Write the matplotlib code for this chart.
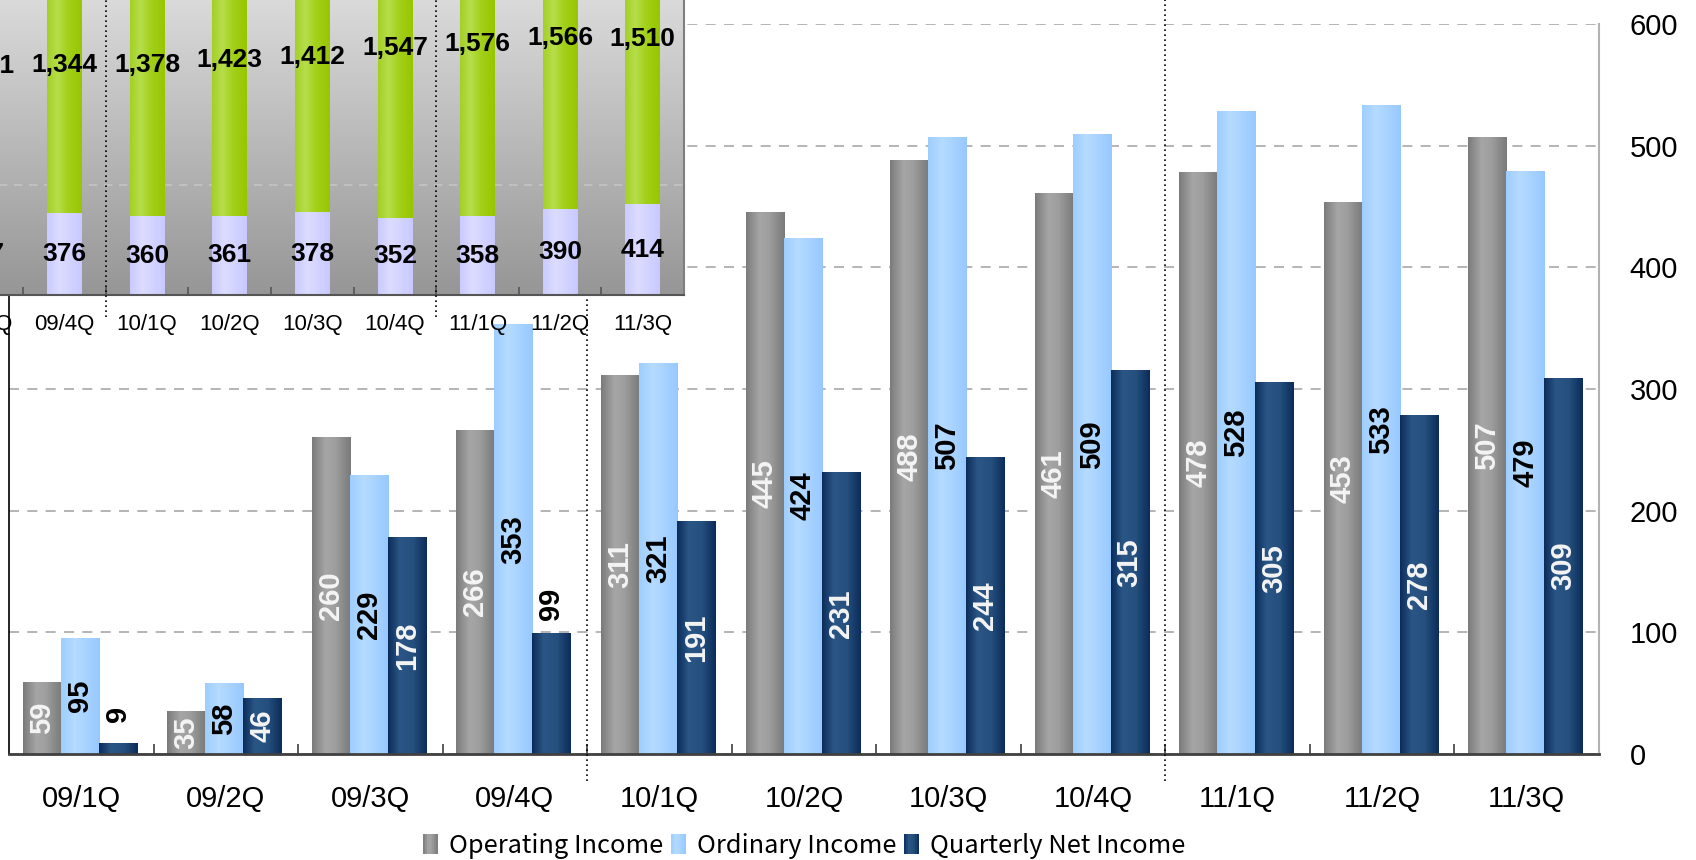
import numpy as np
import matplotlib
matplotlib.use('Agg')
import matplotlib.pyplot as plt
from matplotlib.colors import LinearSegmentedColormap
from matplotlib.legend_handler import HandlerBase
from matplotlib.patches import Rectangle
from matplotlib.font_manager import FontProperties

plt.rcParams['font.family'] = ['Liberation Sans', 'DejaVu Sans']

# quarterly income, main chart
quarters = ['09/1Q', '09/2Q', '09/3Q', '09/4Q', '10/1Q', '10/2Q',
            '10/3Q', '10/4Q', '11/1Q', '11/2Q', '11/3Q']
operating = [59, 35, 260, 266, 311, 445, 488, 461, 478, 453, 507]
ordinary = [95, 58, 229, 353, 321, 424, 507, 509, 528, 533, 479]
net_income = [9, 46, 178, 99, 191, 231, 244, 315, 305, 278, 309]
series_names = ['Operating Income', 'Ordinary Income', 'Quarterly Net Income']

# stacked panel in the corner
inset_quarters = ['09/3Q', '09/4Q', '10/1Q', '10/2Q', '10/3Q',
                  '10/4Q', '11/1Q', '11/2Q', '11/3Q']
inset_lower = [377, 376, 360, 361, 378, 352, 358, 390, 414]
inset_upper = [1331, 1344, 1378, 1423, 1412, 1547, 1576, 1566, 1510]


def ramp(name, stops):
    return LinearSegmentedColormap.from_list(name, stops)


cm_gray = ramp('gray', [(0, '#7a7a7a'), (0.12, '#8a8a8a'), (0.35, '#a6a6a6'),
                        (0.6, '#9e9e9e'), (0.85, '#878787'), (1, '#7a7a7a')])
cm_light = ramp('light', [(0, '#9dcdff'), (0.35, '#b5dbff'), (0.65, '#a8d3ff'),
                          (1, '#96c8ff')])
cm_dark = ramp('dark', [(0, '#0b2c5a'), (0.3, '#2a5686'), (0.65, '#254f7d'),
                        (1, '#0b2c5a')])
cm_green = ramp('green', [(0, '#a4cf25'), (0.3, '#b6de4c'), (0.6, '#a3d01a'),
                          (1, '#97c600')])
cm_lav = ramp('lav', [(0, '#cacaff'), (0.35, '#dcdcff'), (0.7, '#d2d2ff'),
                      (1, '#c8c8ff')])
cm_bg = ramp('bg', ['#dadada', '#969696'])


def fill_gradient(ax, bars, cmap):
    grad = np.linspace(0, 1, 128)[None, :]
    for bar in bars:
        x, y = bar.get_xy()
        w, h = bar.get_width(), bar.get_height()
        ax.imshow(grad, cmap=cmap, aspect='auto', interpolation='bilinear',
                  extent=(x, x + w, y, y + h), zorder=bar.get_zorder() + 0.1)


class StripeHandler(HandlerBase):
    def __init__(self, cmap, n=8):
        super().__init__()
        self.cmap = cmap
        self.n = n

    def create_artists(self, legend, orig_handle, xdescent, ydescent,
                       width, height, fontsize, trans):
        step = width / self.n
        return [Rectangle((-xdescent + i * step, -ydescent), step, height,
                          facecolor=self.cmap((i + 0.5) / self.n),
                          edgecolor='none', transform=trans)
                for i in range(self.n)]


fig = plt.figure(figsize=(16.96, 8.6), dpi=100)
W, H = 1696, 860

# ---- main grouped bars
ax = fig.add_axes([9 / W, 1 - 754 / H, 1590 / W, 730 / H])
x = np.arange(len(quarters))
bw = 0.263
series = [operating, ordinary, net_income]
cmaps = [cm_gray, cm_light, cm_dark]
label_colors = ['#f4f4f4', 'black', '#f4f4f4']
outside = {(2, 0), (2, 3)}

for k, (vals, cm) in enumerate(zip(series, cmaps)):
    pos = x + (k - 1) * bw - 0.01
    bars = ax.bar(pos, vals, bw, color=cm(0.5), zorder=2)
    fill_gradient(ax, bars, cm)
    for i, (px, v) in enumerate(zip(pos, vals)):
        if (k, i) in outside:
            ax.text(px, v + 24, str(v), rotation=90, ha='center', va='center',
                    fontsize=21, fontweight='bold', color='black', zorder=5)
        else:
            ax.text(px, v / 2, str(v), rotation=90, ha='center', va='center',
                    fontsize=21, fontweight='bold', color=label_colors[k],
                    zorder=5)

ax.set_xlim(-0.5, len(quarters) - 0.5)
ax.set_ylim(0, 600)
ax.set_xticks(x)
ax.set_xticklabels(quarters, fontsize=21)
ax.set_xticks(np.arange(0.5, len(quarters) - 1), minor=True)
ax.tick_params(axis='x', which='major', length=0, pad=22)
ax.tick_params(axis='x', which='minor', direction='in', length=7, width=1.2,
               color='#404040')
ax.yaxis.tick_right()
ax.set_yticks(np.arange(0, 601, 100))
ax.tick_params(axis='y', length=0, labelsize=21, pad=22)
ax.grid(axis='y', color='#a8a8a8', linestyle=(0, (6, 5)), linewidth=1.2)
ax.set_axisbelow(True)
ax.spines['top'].set_visible(False)
ax.spines['left'].set_color('black')
ax.spines['left'].set_linewidth(1.2)
ax.spines['bottom'].set_color('#404040')
ax.spines['bottom'].set_linewidth(2)
ax.spines['right'].set_color('#b3b3b3')
ax.spines['right'].set_linewidth(1.5)

for sep in (3.5, 7.5):
    ax.plot([sep, sep], [-0.037, 1.04], transform=ax.get_xaxis_transform(),
            color='black', linestyle=(0, (1, 2)), linewidth=1.2,
            clip_on=False, zorder=6)

# ---- stacked panel, top-left
left_px = 684 - 9 * 82.6
axi = fig.add_axes([left_px / W, 1 - 295 / H, 9 * 82.6 / W, 295 / H])
axi.patch.set_visible(False)
xi = np.arange(len(inset_quarters))
ibw = 0.42
axi.imshow(np.linspace(0, 1, 256)[:, None], cmap=cm_bg, aspect='auto',
           extent=(0, 1, 0, 1), transform=axi.transAxes, zorder=0)
axi.axhline(500, color='#c4c4c4', linestyle=(0, (5, 4)), linewidth=1.2,
            zorder=1)
lower_bars = axi.bar(xi, inset_lower, ibw, color=cm_lav(0.5), zorder=2)
upper_bars = axi.bar(xi, inset_upper, ibw, bottom=inset_lower,
                     color=cm_green(0.5), zorder=2)
fill_gradient(axi, lower_bars, cm_lav)
fill_gradient(axi, upper_bars, cm_green)
for px, lo, up in zip(xi, inset_lower, inset_upper):
    axi.text(px, lo / 2, f'{lo:,}', ha='center', va='center', fontsize=19,
             fontweight='bold', color='black', zorder=5)
    axi.text(px, lo + up / 2, f'{up:,}', ha='center', va='center',
             fontsize=19, fontweight='bold', color='black', zorder=5)

axi.set_xlim(-0.5, len(inset_quarters) - 0.5)
axi.set_ylim(0, 1345)
axi.set_yticks([])
axi.set_xticks(xi)
axi.set_xticklabels(inset_quarters, fontsize=16)
axi.set_xticks(np.arange(0.5, len(inset_quarters) - 1), minor=True)
axi.tick_params(axis='x', which='major', length=0, pad=14)
axi.tick_params(axis='x', which='minor', direction='in', length=6, width=1.2,
                color='#555555')
axi.spines['top'].set_visible(False)
axi.spines['left'].set_visible(False)
axi.spines['bottom'].set_color('#555555')
axi.spines['bottom'].set_linewidth(1.5)
axi.spines['right'].set_color('#7f7f7f')
axi.spines['right'].set_linewidth(1.5)

for sep in (1.5, 5.5):
    axi.plot([sep, sep], [-0.075, 1.0], transform=axi.get_xaxis_transform(),
             color='black', linestyle=(0, (1, 2)), linewidth=1.2,
             clip_on=False, zorder=6)

# ---- legend
proxies = [Rectangle((0, 0), 1, 1) for _ in series_names]
fig.legend(proxies, series_names,
           handler_map={p: StripeHandler(cm) for p, cm in zip(proxies, cmaps)},
           loc='center', bbox_to_anchor=(804 / W, 1 - 846 / H), ncol=3,
           frameon=False,
           prop=FontProperties(family=['Noto Sans CJK JP', 'DejaVu Sans'],
                               size=18.3),
           handlelength=0.6, handleheight=0.85, handletextpad=0.42,
           columnspacing=0.3, borderpad=0)

fig.savefig('out.png', dpi=100)
